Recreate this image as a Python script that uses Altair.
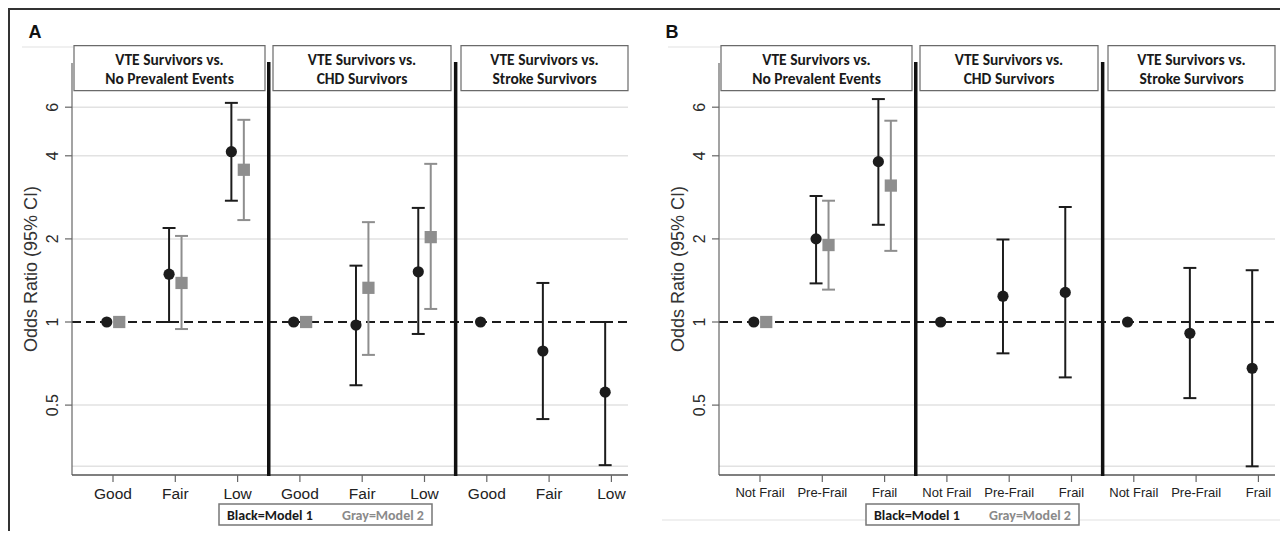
import altair as alt
import pandas as pd
import numpy as np

# ---------------- data ----------------
group_line1 = ["VTE Survivors vs.", "VTE Survivors vs.", "VTE Survivors vs."]
group_line2 = ["No Prevalent Events", "CHD Survivors", "Stroke Survivors"]
cats_A = ["Good", "Fair", "Low"]
cats_B = ["Not Frail", "Pre-Frail", "Frail"]
y_tick_values = [0.5, 1, 2, 4, 6]
y_tick_labels = ["0.5", "1", "2", "4", "6"]
grid_values = [0.3, 0.5, 2, 4, 6]

# Panel A (per comparison group: Good, Fair, Low)
A_m1_or = [[1, 1.49, 4.14], [1, 0.975, 1.52], [1, 0.785, 0.557]]
A_m1_lo = [[None, 1.00, 2.75], [None, 0.59, 0.905], [None, 0.445, 0.303]]
A_m1_hi = [[None, 2.19, 6.22], [None, 1.60, 2.59], [None, 1.385, 1.00]]
A_m2_or = [[1, 1.385, 3.56], [1, 1.33, 2.03]]
A_m2_lo = [[None, 0.943, 2.34], [None, 0.76, 1.115]]
A_m2_hi = [[None, 2.05, 5.40], [None, 2.30, 3.74]]

# Panel B (per comparison group: Not Frail, Pre-Frail, Frail)
B_m1_or = [[1, 2.00, 3.81], [1, 1.24, 1.28], [1, 0.91, 0.68]]
B_m1_lo = [[None, 1.38, 2.25], [None, 0.77, 0.63], [None, 0.53, 0.30]]
B_m1_hi = [[None, 2.86, 6.42], [None, 1.99, 2.61], [None, 1.57, 1.54]]
B_m2_or = [[1, 1.90, 3.12]]
B_m2_lo = [[None, 1.31, 1.81]]
B_m2_hi = [[None, 2.75, 5.36]]

# ---------------- layout ----------------
W, H = 1272, 523
STEP = 62.3
B_OFF = 647 / STEP


def u(page_x):
    return 1 + (page_x - 113) / STEP


def val(page_y):
    return 2 ** ((322 - page_y) / 83.1)


xs = alt.Scale(domain=[u(8), u(8 + W)], nice=False, zero=False)
ys = alt.Scale(type="log", domain=[val(8 + H), val(8)], nice=False)

BLACK = "#1c1c1c"
GRAY = "#8e8e8e"
OFFS = {"A": 0.0, "B": B_OFF}

# point/CI table
rows = []
for panel, m1, m2 in [("A", (A_m1_or, A_m1_lo, A_m1_hi), (A_m2_or, A_m2_lo, A_m2_hi)),
                      ("B", (B_m1_or, B_m1_lo, B_m1_hi), (B_m2_or, B_m2_lo, B_m2_hi))]:
    for model, (ors, los, his), shift in [("Model 1", m1, -0.1), ("Model 2", m2, 0.1)]:
        for g in range(len(ors)):
            for c in range(3):
                rows.append(dict(panel=panel, model=model,
                                 u=OFFS[panel] + g * 3 + c + 1 + shift,
                                 orv=ors[g][c], lo=los[g][c], hi=his[g][c]))
df = pd.DataFrame(rows)
df["cl"] = df["u"] - 0.104
df["cr"] = df["u"] + 0.104
ci = df.dropna(subset=["lo"])

X = lambda f: alt.X(f, scale=xs, axis=None)
Y = lambda f: alt.Y(f, scale=ys, axis=None)

layers = []

# gridlines
grid = pd.DataFrame([dict(x=u(72) + o, x2=u(628) + o, y=v) for o in OFFS.values() for v in grid_values])
layers.append(alt.Chart(grid).mark_rule(color="#e2e2e2", strokeWidth=1.5).encode(
    x=X("x:Q"), x2="x2:Q", y=Y("y:Q")))

# faint region lines
faint = pd.DataFrame([dict(x=u(22), x2=u(73)), dict(x=u(668), x2=u(722))])
layers.append(alt.Chart(faint).mark_rule(color="#ebebeb", strokeWidth=1.5).encode(
    x=X("x:Q"), x2="x2:Q", y=alt.value(39)))
faint2 = pd.DataFrame([dict(x=u(662), x2=u(8 + W))])
layers.append(alt.Chart(faint2).mark_rule(color="#ebebeb", strokeWidth=1.5).encode(
    x=X("x:Q"), x2="x2:Q", y=alt.value(512)))

# reference line at 1
ref = pd.DataFrame([dict(x=u(72) + o, x2=u(628) + o, y=1) for o in OFFS.values()])
layers.append(alt.Chart(ref).mark_rule(color=BLACK, strokeWidth=2, strokeDash=[9, 5]).encode(
    x=X("x:Q"), x2="x2:Q", y=Y("y:Q")))

# y axis lines + ticks
yax = pd.DataFrame([dict(x=u(72) + o) for o in OFFS.values()])
layers.append(alt.Chart(yax).mark_rule(color="#666", strokeWidth=1.2).encode(
    x=X("x:Q"), y=alt.value(55), y2=alt.value(467)))
yt = pd.DataFrame([dict(x=u(65) + o, x2=u(72) + o, y=v) for o in OFFS.values() for v in y_tick_values])
layers.append(alt.Chart(yt).mark_rule(color="#666", strokeWidth=1.2).encode(
    x=X("x:Q"), x2="x2:Q", y=Y("y:Q")))
yl = pd.DataFrame([dict(x=u(53) + o, y=v, t=t) for o in OFFS.values() for v, t in zip(y_tick_values, y_tick_labels)])
layers.append(alt.Chart(yl).mark_text(angle=270, fontSize=16, font="Liberation Sans", color="#2a2a2a",
                                      align="center", baseline="middle").encode(
    x=X("x:Q"), y=Y("y:Q"), text="t:N"))
ytitle = pd.DataFrame([dict(x=u(32) + o, t="Odds Ratio (95% CI)") for o in OFFS.values()])
layers.append(alt.Chart(ytitle).mark_text(angle=270, fontSize=18, font="Liberation Sans", color="#333",
                                          align="center", baseline="middle").encode(
    x=X("x:Q"), y=alt.value(261), text="t:N"))

# x axis lines, ticks, labels
xax = pd.DataFrame([dict(x=u(72) + o, x2=u(628) + o) for o in OFFS.values()])
layers.append(alt.Chart(xax).mark_rule(color="#555", strokeWidth=1.5).encode(
    x=X("x:Q"), x2="x2:Q", y=alt.value(467)))
xt = pd.DataFrame([dict(x=o + i + 1) for o in OFFS.values() for i in range(9)])
layers.append(alt.Chart(xt).mark_rule(color="#666", strokeWidth=1.2).encode(
    x=X("x:Q"), y=alt.value(467), y2=alt.value(474)))
xlA = pd.DataFrame([dict(x=i + 1, t=cats_A[i % 3]) for i in range(9)])
layers.append(alt.Chart(xlA).mark_text(fontSize=15.5, font="Liberation Sans", color="#222",
                                       baseline="middle").encode(
    x=X("x:Q"), y=alt.value(486), text="t:N"))
xlB = pd.DataFrame([dict(x=B_OFF + i + 1, t=cats_B[i % 3]) for i in range(9)])
layers.append(alt.Chart(xlB).mark_text(fontSize=13, font="Liberation Sans", color="#222",
                                       baseline="middle").encode(
    x=X("x:Q"), y=alt.value(485), text="t:N"))

# dividers
div = pd.DataFrame([dict(x=o + d) for o in OFFS.values() for d in (3.5, 6.5)])
layers.append(alt.Chart(div).mark_rule(color="#111", strokeWidth=3.5).encode(
    x=X("x:Q"), y=alt.value(54), y2=alt.value(468)))

# header boxes
box_edges = [(74, 265), (273, 451), (461, 628)]
hb = pd.DataFrame([dict(x=u(a) + o, x2=u(b) + o, xm=(u(a) + u(b)) / 2 + o,
                        l1=group_line1[g], l2=group_line2[g])
                   for o in OFFS.values() for g, (a, b) in enumerate(box_edges)])
layers.append(alt.Chart(hb).mark_rect(fill="white", stroke="#6a6a6a", strokeWidth=1.2).encode(
    x=X("x:Q"), x2="x2:Q", y=alt.value(37.7), y2=alt.value(82.7)))
hfont = "Carlito, Lato, sans-serif"
layers.append(alt.Chart(hb).mark_text(fontSize=15.5, font=hfont, fontWeight="bold", color="#1a1a1a",
                                      baseline="middle").encode(
    x=X("xm:Q"), y=alt.value(52), text="l1:N"))
layers.append(alt.Chart(hb).mark_text(fontSize=15.5, font=hfont, fontWeight="bold", color="#1a1a1a",
                                      baseline="middle").encode(
    x=X("xm:Q"), y=alt.value(71), text="l2:N"))

# legend boxes
lb = pd.DataFrame([dict(x=u(219) + o, x2=u(432) + o, xb=u(227) + o, xg=u(342) + o) for o in OFFS.values()])
layers.append(alt.Chart(lb).mark_rect(fill="white", stroke="#777", strokeWidth=1.5).encode(
    x=X("x:Q"), x2="x2:Q", y=alt.value(496), y2=alt.value(517)))
layers.append(alt.Chart(lb).mark_text(fontSize=14, font=hfont, fontWeight="bold", color="#1a1a1a",
                                      align="left", baseline="middle").encode(
    x=X("xb:Q"), y=alt.value(508), text=alt.value("Black=Model 1")))
layers.append(alt.Chart(lb).mark_text(fontSize=14, font=hfont, fontWeight="bold", color="#8a8a8a",
                                      align="left", baseline="middle").encode(
    x=X("xg:Q"), y=alt.value(508), text=alt.value("Gray=Model 2")))

# confidence intervals
for model, col in [("Model 1", BLACK), ("Model 2", GRAY)]:
    d = ci[ci["model"] == model]
    layers.append(alt.Chart(d).mark_rule(color=col, strokeWidth=2).encode(
        x=X("u:Q"), y=Y("lo:Q"), y2="hi:Q"))
    layers.append(alt.Chart(d).mark_rule(color=col, strokeWidth=2).encode(
        x=X("cl:Q"), x2="cr:Q", y=Y("lo:Q")))
    layers.append(alt.Chart(d).mark_rule(color=col, strokeWidth=2).encode(
        x=X("cl:Q"), x2="cr:Q", y=Y("hi:Q")))

# points
layers.append(alt.Chart(df[df["model"] == "Model 2"]).mark_square(color=GRAY, opacity=1, size=150).encode(
    x=X("u:Q"), y=Y("orv:Q")))
layers.append(alt.Chart(df[df["model"] == "Model 1"]).mark_circle(color=BLACK, opacity=1, size=125).encode(
    x=X("u:Q"), y=Y("orv:Q")))

# panel letters
letters = pd.DataFrame([dict(x=u(35), t="A"), dict(x=u(672), t="B")])
layers.append(alt.Chart(letters).mark_text(fontSize=18, font="Liberation Sans", fontWeight="bold",
                                           color="#111", baseline="middle").encode(
    x=X("x:Q"), y=alt.value(25), text="t:N"))

# frame
layers.append(alt.Chart(pd.DataFrame([dict(a=0)])).mark_rule(color="#333", strokeWidth=2).encode(
    x=alt.value(0), x2=alt.value(W), y=alt.value(1)))
layers.append(alt.Chart(pd.DataFrame([dict(a=0)])).mark_rule(color="#333", strokeWidth=2).encode(
    x=alt.value(1), y=alt.value(0), y2=alt.value(H)))

chart = alt.layer(*layers).properties(
    width=W, height=H, padding=0, autosize=alt.AutoSizeParams(type="none")
).configure_view(stroke=None)

chart.save("out.html", embed_options={"renderer": "svg", "actions": False})
